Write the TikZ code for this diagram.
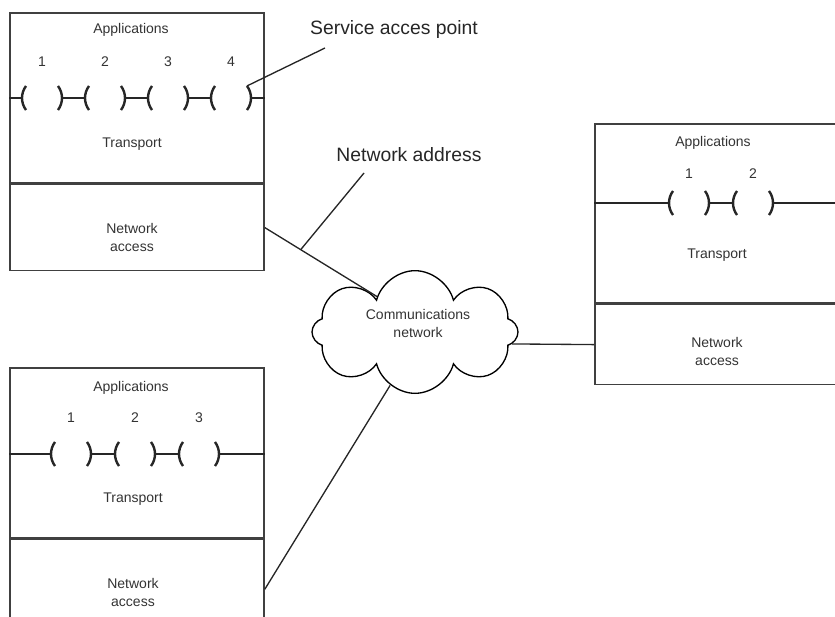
\documentclass[tikz,border=0pt]{standalone}
\usepackage{fontspec}
\setmainfont{Liberation Sans}
\usetikzlibrary{shapes.symbols}

\newcommand{\sapair}[4]{%
  \node[sap,label={[num,label distance=#4]above:#3}] (#1) at #2 {};
  \draw[brk] (#1.143) arc (143:217:15pt);
  \draw[brk] (#1.-37) arc (-37:37:15pt);
}

\begin{document}
\begin{tikzpicture}[x=0.75pt,y=-0.75pt]%
  \tikzstyle{layer}=[rectangle,draw=black!75,line width=1.2pt,minimum width=190.5pt,inner sep=0]
  \tikzstyle{sap}=[circle,minimum size=30pt,inner sep=0,outer sep=0]
  \tikzstyle{brk}=[line width=1.8pt,black!85]
  \tikzstyle{wire}=[line width=1pt,black!85]
  \tikzstyle{num}=[font=\fontsize{10.5}{13.5}\selectfont,text=black!80]
  \tikzstyle{small}=[font=\fontsize{10.5}{13.5}\selectfont,text=black!80,align=center]
  \tikzstyle{big}=[font=\fontsize{14.5}{17}\selectfont,text=black!85]
  \clip (0,0) rectangle (835,617);
  \node[layer,minimum height=127.5pt](tp1) at (137,98) {};
  \node[layer,minimum height=64.5pt,anchor=north](n1) at (tp1.south) {};
  \node[layer,minimum height=134.25pt](tp2) at (722,213.5) {};
  \node[layer,minimum height=60pt,anchor=north](n2) at (tp2.south) {};
  \node[layer,minimum height=127.5pt](tp3) at (137,453) {};
  \node[layer,minimum height=64.5pt,anchor=north](n3) at (tp3.south) {};
  \node[small] at (131,30) {Applications};
  \node[small] at (132,144) {Transport};
  \node[small] at (132,237) {Network\\access};
  \node[small] at (713,143) {Applications};
  \node[small] at (717,255) {Transport};
  \node[small] at (717,351) {Network\\access};
  \node[small] at (131,388) {Applications};
  \node[small] at (133,499) {Transport};
  \node[small] at (133,592) {Network\\access};
  \sapair{s11}{(42,98)}{1}{5pt}
  \sapair{s12}{(105,98)}{2}{5pt}
  \sapair{s13}{(168,98)}{3}{5pt}
  \sapair{s14}{(231,98)}{4}{5pt}
  \sapair{s21}{(689,203)}{1}{0pt}
  \sapair{s22}{(753,203)}{2}{0pt}
  \sapair{s31}{(71,454)}{1}{5pt}
  \sapair{s32}{(135,454)}{2}{5pt}
  \sapair{s33}{(199,454)}{3}{5pt}
  \draw[wire] (tp1.west |- s11) -- (s11.west) (s11.east) -- (s12.west)
    (s12.east) -- (s13.west) (s13.east) -- (s14.west) (s14.east) -- (tp1.east |- s14);
  \draw[wire] (tp2.west |- s21) -- (s21.west) (s21.east) -- (s22.west)
    (s22.east) -- (tp2.east |- s22);
  \draw[wire] (tp3.west |- s31) -- (s31.west) (s31.east) -- (s32.west)
    (s32.east) -- (s33.west) (s33.east) -- (tp3.east |- s33);
  \node[cloud,draw,line width=1pt,cloud puffs=8,aspect=1.7,minimum width=154.5pt,minimum height=92pt](c) at (415,332) {};
  \node[small] at (418,323) {Communications\\network};
  \node[big](sacc) at (394,30) {Service acces point};
  \node[big](naddr) at (409,155) {Network address};
  \coordinate (saend) at (325,48);
  \coordinate (naend) at (364,173);
  \draw[wire] (s14.37) -- (saend);
  \draw[wire] (n1.east) -- coordinate[pos=0.32] (na) (c.137);
  \draw[wire] (na) -- (naend);
  \draw[wire] (n2.west) -- (c.-7);
  \draw[wire] (c.245) -- ([yshift=-5pt]n3.east);
\end{tikzpicture}
\end{document}
